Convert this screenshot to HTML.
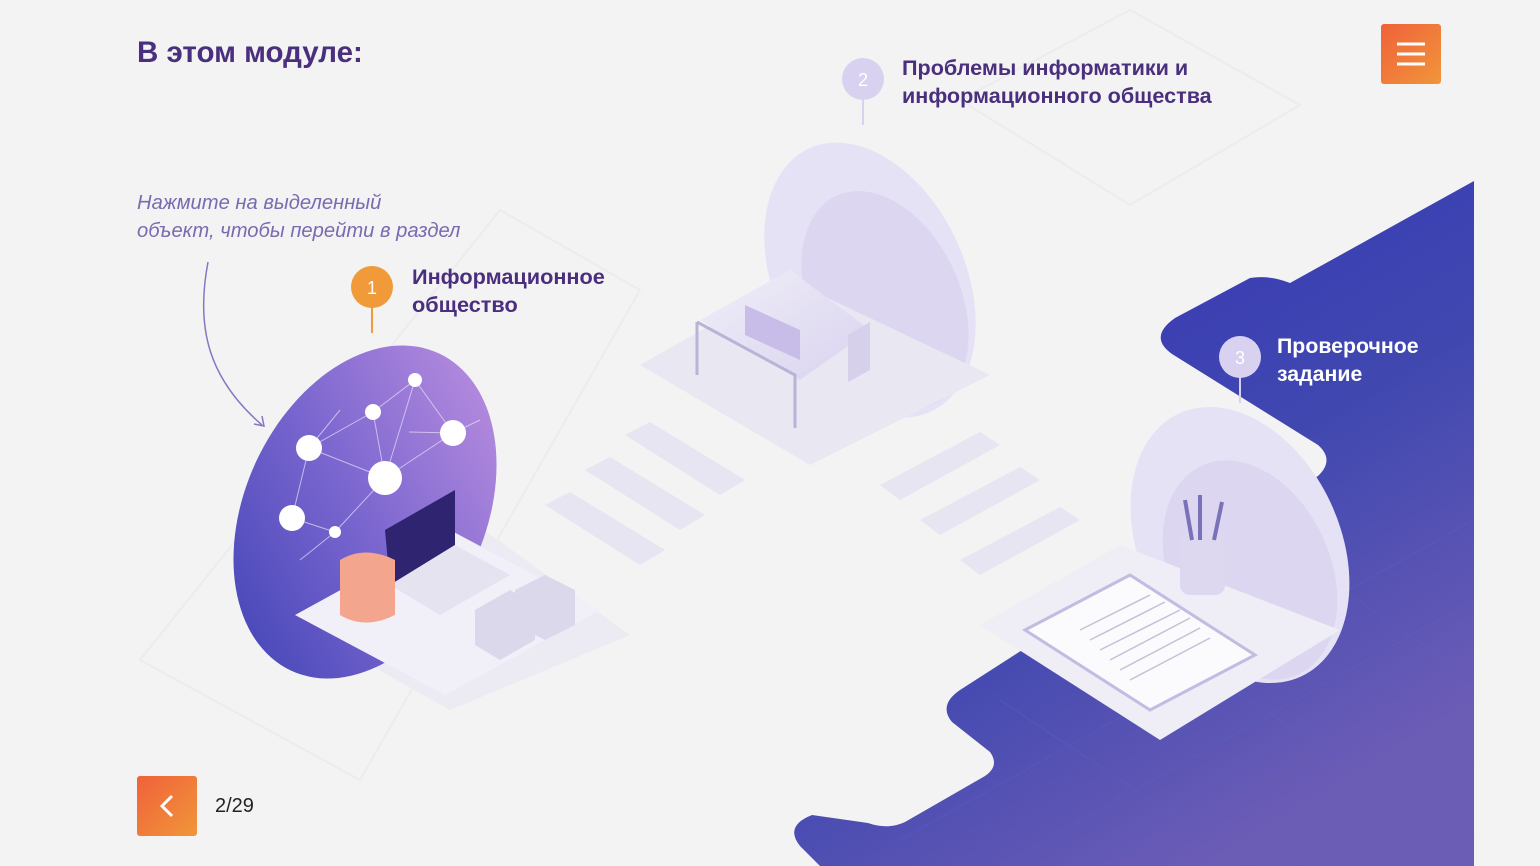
<!DOCTYPE html>
<html><head><meta charset="utf-8"><style>
html,body{margin:0;padding:0}
body{width:1540px;height:866px;background:#f3f3f3;position:relative;overflow:hidden;font-family:"Liberation Sans","DejaVu Sans",sans-serif}
.t{position:absolute;white-space:nowrap}
</style></head><body>
<svg width="1540" height="866" style="position:absolute;left:0;top:0">
<defs>
<linearGradient id="bl" x1="0" y1="0" x2="0.6" y2="1"><stop offset="0" stop-color="#3530b8"/><stop offset="0.6" stop-color="#4048b0"/><stop offset="1" stop-color="#6b5cb6"/></linearGradient>
<linearGradient id="pu" x1="0.7" y1="0" x2="0.2" y2="1"><stop offset="0" stop-color="#b48ade"/><stop offset="0.5" stop-color="#7a66cf"/><stop offset="1" stop-color="#4546b8"/></linearGradient>
<linearGradient id="or" x1="0" y1="0" x2="1" y2="1"><stop offset="0" stop-color="#f0613a"/><stop offset="1" stop-color="#f0963a"/></linearGradient>
<linearGradient id="lv" x1="0" y1="0" x2="1" y2="1"><stop offset="0" stop-color="#f0eef8"/><stop offset="1" stop-color="#d9d3ef"/></linearGradient>
</defs>
<g fill="none" stroke="#ececef" stroke-width="2">
<path d="M960,100 L1130,10 L1300,105 L1130,205 Z"/>
<path d="M140,660 L500,210 L640,290 L360,780 Z"/>
</g>
<path d="M1474,181 L1290,283 Q1270,275 1250,278 L1175,318 Q1148,337 1172,354 L1318,445 Q1335,460 1318,476 L1100,600 L960,690 Q938,705 952,722 L990,752 Q1000,766 985,776 L905,822 Q888,830 868,823 L812,815 Q784,826 800,846 L820,866 L1474,866 Z" fill="url(#bl)"/>
<g stroke="#5a63c8" stroke-width="1" opacity="0.4">
<path d="M1000,866 L1474,600 M1100,866 L1474,660 M900,840 L1474,520 M1300,866 L1474,760"/>
<path d="M1000,700 L1250,866 M1150,640 L1474,840 M1300,560 L1474,680"/>
</g>
<ellipse cx="870" cy="280" rx="95" ry="145" transform="rotate(-25 870 280)" fill="#e6e2f5"/>
<ellipse cx="885" cy="300" rx="75" ry="115" transform="rotate(-25 885 300)" fill="#dcd6f1"/>
<path d="M640,365 L790,280 L990,375 L810,465 Z" fill="#e9e7f2"/>
<path d="M700,320 L790,270 L870,330 L800,380 Z" fill="url(#lv)"/>
<path d="M697,322 L697,375 M697,322 L795,375 L795,428" stroke="#b9b3d8" stroke-width="3" fill="none"/>
<path d="M745,305 L800,330 L800,360 L745,335 Z" fill="#c8bde8"/>
<path d="M848,335 L870,322 L870,370 L848,382 Z" fill="#d6d0ea"/>
<g fill="#e7e5f1">
<path d="M625,435 L650,422 L745,480 L720,495 Z"/>
<path d="M585,470 L610,457 L705,515 L680,530 Z"/>
<path d="M545,505 L570,492 L665,550 L640,565 Z"/>
<path d="M880,485 L980,432 L1000,445 L900,500 Z"/>
<path d="M920,520 L1020,467 L1040,480 L940,535 Z"/>
<path d="M960,560 L1060,507 L1080,520 L980,575 Z"/>
</g>
<ellipse cx="1240" cy="545" rx="100" ry="145" transform="rotate(-25 1240 545)" fill="#e6e2f5"/>
<ellipse cx="1250" cy="570" rx="80" ry="115" transform="rotate(-25 1250 570)" fill="#dcd6f1"/>
<path d="M980,625 L1120,545 L1340,630 L1160,740 Z" fill="#efedf6"/>
<path d="M1025,630 L1130,575 L1255,655 L1150,710 Z" fill="#fbfbfd" stroke="#c3bce2" stroke-width="3"/>
<g stroke="#c5c1d6" stroke-width="1.5"><path d="M1080,630 L1150,595 M1090,640 L1165,602 M1100,650 L1180,610 M1110,660 L1190,618 M1120,670 L1200,628 M1130,680 L1210,638"/></g>
<rect x="1180" y="530" width="45" height="65" rx="10" fill="#ddd8f0"/>
<path d="M1185,500 L1192,540 M1200,495 L1200,540 M1222,502 L1214,540" stroke="#7a72b8" stroke-width="4"/>
<path d="M290,620 L470,520 L630,635 L450,710 Z" fill="#eceaf3"/>
<ellipse cx="365" cy="512" rx="120" ry="175" transform="rotate(25 365 512)" fill="url(#pu)"/>
<g stroke="#e8e0f8" stroke-width="1" opacity="0.7" fill="none">
<path d="M415,380 L373,412 L309,448 L292,518 L335,532 L385,478 L453,433 L415,380 L385,478 L309,448 M373,412 L385,478 M335,532 L300,560 M453,433 L480,420 M340,410 L309,448 M409,432 L453,433"/>
</g>
<g fill="#fff"><circle cx="415" cy="380" r="7"/><circle cx="373" cy="412" r="8"/><circle cx="309" cy="448" r="13"/><circle cx="385" cy="478" r="17"/><circle cx="453" cy="433" r="13"/><circle cx="292" cy="518" r="13"/><circle cx="335" cy="532" r="6"/></g>
<path d="M295,615 L450,530 L600,610 L445,695 Z" fill="#f1eff8"/>
<path d="M385,530 L455,490 L455,545 L390,585 Z" fill="#2e2470"/>
<path d="M390,585 L455,545 L510,575 L440,615 Z" fill="#e6e3f0"/>
<path d="M340,560 Q365,545 395,560 L395,615 Q365,630 340,615 Z" fill="#f4a58e"/>
<path d="M475,610 L510,590 L535,605 L535,640 L500,660 L475,645 Z" fill="#dcd8ec"/>
<path d="M515,590 L545,575 L575,590 L575,625 L545,640 L515,625 Z" fill="#dcd8ec"/>
<path d="M208,262 C195,330 210,380 262,425" fill="none" stroke="#8a76c0" stroke-width="1.5"/>
<path d="M254,424 L264,426 L262,416" fill="none" stroke="#8a76c0" stroke-width="1.5"/>
<line x1="372" y1="300" x2="372" y2="333" stroke="#f09a3a" stroke-width="2"/>
<circle cx="372" cy="287" r="21" fill="#f09a3a"/>
<text x="372" y="294" fill="#fff" font-size="18" text-anchor="middle" font-family="Liberation Sans">1</text>
<line x1="863" y1="90" x2="863" y2="125" stroke="#d8d2f0" stroke-width="2"/>
<circle cx="863" cy="79" r="21" fill="#d8d2f0"/>
<text x="863" y="86" fill="#fff" font-size="18" text-anchor="middle" font-family="Liberation Sans">2</text>
<line x1="1240" y1="368" x2="1240" y2="403" stroke="#d8d2f0" stroke-width="2"/>
<circle cx="1240" cy="357" r="21" fill="#d8d2f0"/>
<text x="1240" y="364" fill="#fff" font-size="18" text-anchor="middle" font-family="Liberation Sans">3</text>
<rect x="1381" y="24" width="60" height="60" rx="3" fill="url(#or)"/>
<path d="M1397,44 H1425 M1397,54 H1425 M1397,64 H1425" stroke="#fff" stroke-width="3"/>
<rect x="137" y="776" width="60" height="60" rx="3" fill="url(#or)"/>
<path d="M172,796 L162,806 L172,816" stroke="#fff" stroke-width="3" fill="none"/>
</svg>
<div class="t" style="left:137px;top:36px;font-size:29.5px;font-weight:bold;color:#4a2f7e">В этом модуле:</div>
<div class="t" style="left:137px;top:189px;font-size:20.2px;font-style:italic;color:#7a6ab0;line-height:28px">Нажмите на выделенный<br>объект, чтобы перейти в раздел</div>
<div class="t" style="left:412px;top:263px;font-size:21.7px;font-weight:bold;color:#4a2f7e;line-height:28px">Информационное<br>общество</div>
<div class="t" style="left:902px;top:54px;font-size:21.6px;font-weight:bold;color:#4a2f7e;line-height:28px">Проблемы информатики и<br>информационного общества</div>
<div class="t" style="left:1277px;top:332px;font-size:21.3px;font-weight:bold;color:#fff;line-height:28px">Проверочное<br>задание</div>
<div class="t" style="left:215px;top:795px;font-size:20px;color:#222">2/29</div>
</body></html>
